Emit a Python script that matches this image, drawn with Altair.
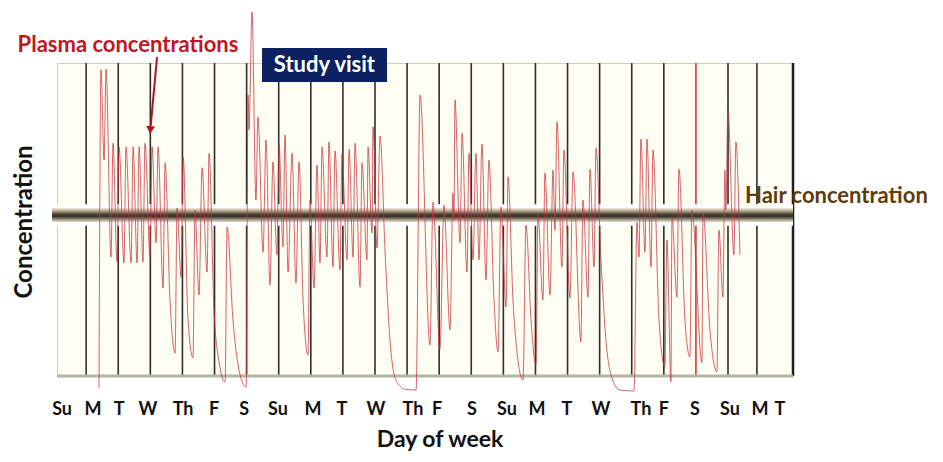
import altair as alt
import pandas as pd

# Plasma concentration curve (hours from start of first Sunday, relative concentration)
hours = [33.6, 35.1, 37.4, 38.9, 42.6, 44.1, 47.1, 48.6, 52.3, 53.8, 57.6, 59.1, 62.1, 63.6,
         66.5, 68.0, 71.8, 73.3, 76.3, 77.8, 81.5, 83.0, 86.7, 90.5, 92.0, 95.0, 96.5, 100.2,
         103.9, 105.4, 108.4, 110.7, 114.4, 115.9, 119.6, 123.4, 127.9, 129.4, 133.8, 138.3,
         143.6, 145.1, 145.8, 148.0, 151.0, 152.5, 156.3, 158.5, 161.5, 163.7, 166.7, 168.2,
         171.2, 172.7, 175.0, 178.0, 180.9, 183.2, 186.2, 189.9, 191.4, 194.4, 196.6, 198.9,
         200.4, 204.1, 205.6, 208.6, 210.1, 213.8, 215.3, 219.1, 220.6, 223.6, 225.1, 228.8,
         230.3, 234.0, 234.8, 237.8, 238.5, 241.5, 243.8, 247.5, 251.2, 255.7, 262.4, 270.7,
         273.7, 281.1, 283.4, 288.6, 291.6, 296.1, 298.3, 299.1, 299.8, 303.6, 305.1, 308.8,
         310.3, 313.3, 315.5, 317.8, 320.0, 323.0, 325.2, 329.0, 332.0, 334.2, 338.0, 339.5,
         343.2, 346.9, 350.7, 352.9, 356.7, 360.4, 361.9, 365.6, 367.1, 370.9, 373.1, 374.6,
         376.1, 379.8, 381.3, 385.8, 388.1, 394.0, 395.5, 399.3, 400.8, 403.8, 405.3, 409.0,
         412.7, 417.2, 423.2, 433.7, 435.9, 437.4, 438.9, 441.9, 443.4, 446.4, 447.9, 452.4,
         456.8, 458.3, 461.3, 462.1, 465.8, 467.3, 471.8, 475.5, 477.0, 484.5, 485.3, 490.5,
         495.7, 497.2, 500.2, 501.7, 502.4, 503.9, 508.4, 509.9, 512.9]
conc = [-3.8, 97.8, 69.0, 98.1, 38.0, 74.4, 36.4, 73.2, 36.1, 73.2, 36.1, 73.2, 36.1, 73.2,
        36.4, 74.4, 38.0, 73.2, 42.5, 73.2, 28.1, 68.1, 24.3, 7.3, 53.7, 31.6, 70.0, 17.9,
        5.8, 53.0, 25.9, 66.5, 33.2, 71.2, 21.1, 4.5, -1.9, 47.6, 17.9, 1.9,
        -3.5, 89.8, 78.6, 116.3, 56.2, 82.8, 39.6, 75.4, 29.1, 68.4, 38.7, 74.4,
        41.2, 77.0, 33.2, 71.2, 29.7, 68.4, 24.3, 6.7, 56.2, 28.1, 67.4, 36.1,
        73.2, 38.0, 74.8, 34.8, 71.9, 33.9, 70.9, 37.1, 72.5, 38.0, 74.4, 28.4,
        68.1, 37.1, 73.2, 45.7, 79.6, 40.9, 76.7, 40.3, 11.5, -1.3, -4.2, -4.5,
        89.8, 9.9, 55.6, 8.6, 54.6, 14.7, 58.5, 49.8, 88.2, 42.5, 77.6, 33.2,
        71.2, 37.1, 71.2, 37.1, 74.1, 30.7, 69.0, 24.3, 7.7, 54.0, 22.0, 63.6,
        24.3, 5.1, -1.3, 48.2, 17.9, 3.5, 51.4, 24.3, 64.9, 25.9, 65.8, 46.6,
        81.2, 34.8, 72.2, 24.9, 65.2, 10.9, 56.2, 25.2, 66.1, 34.8, 72.8, 37.1,
        11.5, -0.6, -4.5, -4.8, 49.2, 38.0, 75.7, 39.6, 75.7, 34.8, 72.2, 17.9,
        2.9, 43.5, -1.9, 50.8, 25.2, 66.1, 17.9, 6.1, 53.0, 4.2, 52.1, 14.7,
        1.3, 46.6, 25.2, 65.8, 53.0, 85.0, 38.7, 74.8, 38.7]

# Day separator lines (hours) and their kind
day_line_hours = [24, 48, 72, 96, 120, 144, 168, 192, 216, 240, 264, 288, 312, 336, 360,
                  384, 408, 432, 456, 480, 504, 525.6]
day_line_kind = ["day"] * 19 + ["visit"] + ["day", "day"]

# Day-of-week labels
day_labels = ["Su", "M", "T", "W", "Th", "F", "S", "Su", "M", "T", "W", "Th", "F", "S",
              "Su", "M", "T", "W", "Th", "F", "S", "Su", "M", "T"]
day_label_hours = [6.0, 29.2, 48.6, 70.3, 96.5, 119.6, 142.1, 167.5, 193.7, 215.3, 240.8,
                   268.4, 286.4, 312.5, 338.7, 361.1, 383.6, 409.0, 438.9, 456.1, 479.3,
                   505.4, 527.9, 542.8]

# Hair concentration level band
hair_start, hair_end = -1.5, 552.6
hair_low, hair_high = 49.2, 53.7

X0, X1 = 2.2, 552.6
W, H = 736, 313
FONT = "Lato"

xs = alt.Scale(domain=[X0, X1], nice=False, zero=False)
ys = alt.Scale(domain=[0, 100], nice=False, zero=False)

plasma = pd.DataFrame({"h": hours, "c": conc, "i": range(len(hours))})
lines = pd.DataFrame({"h": day_line_hours, "kind": day_line_kind})
labels = pd.DataFrame({"h": day_label_hours, "t": day_labels})
band = pd.DataFrame({"x": [hair_start], "x2": [hair_end], "y": [hair_low], "y2": [hair_high]})
white_band = pd.DataFrame({"x": [hair_start], "x2": [hair_end],
                           "y": [hair_low - 1.2], "y2": [hair_high + 1.2]})

base_x = lambda f: alt.X(f, scale=xs, axis=None)
base_y = lambda f: alt.Y(f, scale=ys, axis=None)

rules = alt.Chart(lines).mark_rule(strokeWidth=1.6).encode(
    x=base_x("h:Q"), y=alt.value(0), y2=alt.value(H),
    color=alt.Color("kind:N", scale=alt.Scale(domain=["day", "visit"], range=["#2e2e2e", "#d23a3a"]),
                    legend=None),
)
right_edge = alt.Chart(pd.DataFrame({"h": [X1]})).mark_rule(strokeWidth=2.5, color="#1e1e1e").encode(
    x=base_x("h:Q"), y=alt.value(0), y2=alt.value(H))
bottom_edge = alt.Chart(pd.DataFrame({"c": [0]})).mark_rule(strokeWidth=3, color="#b4b6a4").encode(
    y=base_y("c:Q"), x=alt.value(0), x2=alt.value(W))

wb = alt.Chart(white_band).mark_rect(color="#ffffff").encode(
    x=base_x("x:Q"), x2="x2", y=base_y("y:Q"), y2="y2")

grad = alt.Gradient(
    gradient="linear", x1=0, x2=0, y1=0, y2=1,
    stops=[alt.GradientStop(color="#f0eadc", offset=0),
           alt.GradientStop(color="#b9ad97", offset=0.2),
           alt.GradientStop(color="#4c4238", offset=0.45),
           alt.GradientStop(color="#35302a", offset=0.6),
           alt.GradientStop(color="#9d927e", offset=0.82),
           alt.GradientStop(color="#e6e0d2", offset=1)])
hair = alt.Chart(band).mark_rect(fill=grad).encode(
    x=base_x("x:Q"), x2="x2", y=base_y("y:Q"), y2="y2")

curve = alt.Chart(plasma).mark_line(color="#c8323c", strokeWidth=0.9, opacity=0.85,
                                    interpolate="monotone").encode(
    x=base_x("h:Q"), y=base_y("c:Q"), order="i:Q")

arrow = alt.Chart(pd.DataFrame({"h": [77.0], "c": [101.9], "h2": [72.3], "c2": [80.0]})).mark_rule(
    color="#b0141e", strokeWidth=2).encode(x=base_x("h:Q"), y=base_y("c:Q"), x2="h2", y2="c2")
head = alt.Chart(pd.DataFrame({"h": [72.0], "c": [78.6]})).mark_point(
    shape="triangle-down", filled=True, size=80, angle=5, color="#b0141e", opacity=1).encode(
    x=base_x("h:Q"), y=base_y("c:Q"))

visit_box = alt.Chart(pd.DataFrame({"x": [155.5], "x2": [249.0], "y": [93.9], "y2": [104.8]})).mark_rect(
    color="#0b2162").encode(x=base_x("x:Q"), x2="x2", y=base_y("y:Q"), y2="y2")
visit_text = alt.Chart(pd.DataFrame({"h": [202.2], "c": [99.4], "t": ["Study visit"]})).mark_text(
    font=FONT, fontWeight="bold", fontSize=22, color="white", baseline="middle").encode(
    x=base_x("h:Q"), y=base_y("c:Q"), text="t:N")

plasma_label = alt.Chart(pd.DataFrame({"h": [55.3], "c": [105.8], "t": ["Plasma concentrations"]})).mark_text(
    font=FONT, fontWeight="bold", fontSize=22, color="#c0161f", baseline="middle").encode(
    x=base_x("h:Q"), y=base_y("c:Q"), text="t:N")
hair_label = alt.Chart(pd.DataFrame({"h": [516.7], "c": [57.5], "t": ["Hair concentration"]})).mark_text(
    font=FONT, fontWeight="bold", fontSize=22, color="#5e3c0e", baseline="middle", align="left").encode(
    x=base_x("h:Q"), y=base_y("c:Q"), text="t:N")

day_text = alt.Chart(labels).mark_text(
    font=FONT, fontWeight="bold", fontSize=18, color="#111111", baseline="middle").encode(
    x=base_x("h:Q"), y=alt.value(347), text="t:N")

ytitle = alt.Chart(pd.DataFrame({"t": ["Concentration"]})).mark_text(
    font=FONT, fontWeight="bold", fontSize=24, color="#111111", angle=270, baseline="middle").encode(
    x=alt.value(-32), y=alt.value(159), text="t:N")
xtitle = alt.Chart(pd.DataFrame({"t": ["Day of week"]})).mark_text(
    font=FONT, fontWeight="bold", fontSize=23, color="#111111", baseline="alphabetic").encode(
    x=alt.value(383), y=alt.value(384), text="t:N")

chart = alt.layer(
    rules, right_edge, bottom_edge, wb, hair, curve, arrow, head, visit_box, visit_text,
    plasma_label, hair_label, day_text, ytitle, xtitle
).properties(
    width=W, height=H,
    autosize=alt.AutoSizeParams(type="none"),
    padding={"left": 49, "top": 55, "right": 142, "bottom": 78},
    background="white",
).configure_view(fill="#fefef2", stroke="#cfcfc2", strokeWidth=1)

chart.save("out.html", embed_options={"renderer": "svg", "actions": False})
